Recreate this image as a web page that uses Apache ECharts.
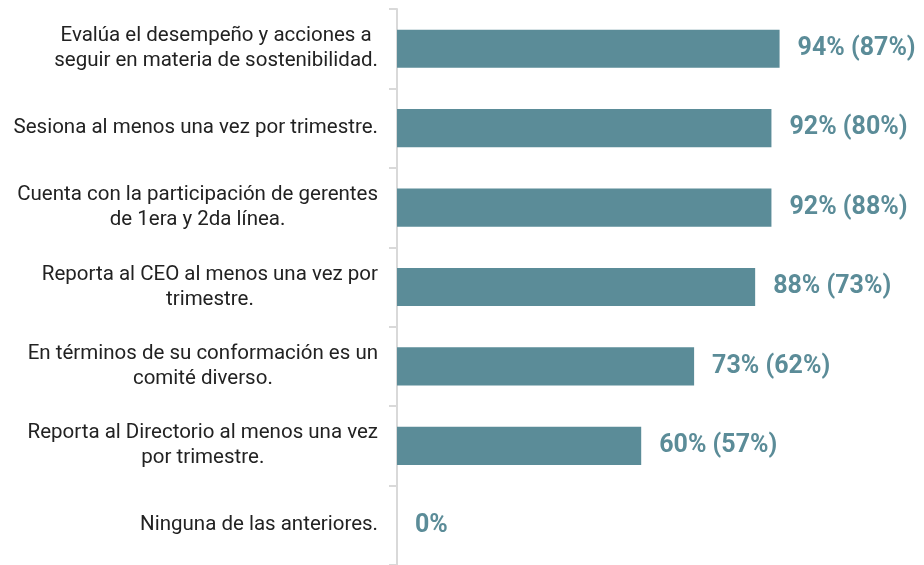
<!DOCTYPE html>
<html>
<head>
<meta charset="utf-8">
<script src="https://cdn.jsdelivr.net/npm/echarts@6/dist/echarts.min.js"></script>
<style>
  html, body { margin: 0; padding: 0; background: #fff; }
  #chart { width: 924px; height: 565px; }
</style>
</head>
<body>
<div id="chart"></div>
<script>
// categorias (de arriba hacia abajo)
const categories = [
  'Evalúa el desempeño y acciones a\nseguir en materia de sostenibilidad.',
  'Sesiona al menos una vez por trimestre.',
  'Cuenta con la participación de gerentes\nde 1era y 2da línea.',
  'Reporta al CEO al menos una vez por\ntrimestre.',
  'En términos de su conformación es un\ncomité diverso.',
  'Reporta al Directorio al menos una vez\npor trimestre.',
  'Ninguna de las anteriores.'
]
const current = [94, 92, 92, 88, 73, 60, 0]
const previous = [87, 80, 88, 73, 62, 57, null]

const teal = '#5b8c98'

const chart = echarts.init(document.getElementById('chart'))
const option = {
  animation: false,
  grid: {
    left: 397,
    top: 9,
    right: 120,
    height: 557
  },
  xAxis: {
    type: 'value',
    min: 0,
    max: 100,
    show: false
  },
  yAxis: {
    type: 'category',
    inverse: true,
    data: categories,
    axisLine: { lineStyle: { color: '#d9d9d9', width: 2 } },
    axisTick: { show: true, length: 8, lineStyle: { color: '#d9d9d9', width: 2 } },
    axisLabel: {
      margin: 19,
      align: 'right',
      formatter: function (v) {
        return v.split('\n').map(l => '{c|' + l + '}').join('\n')
      },
      rich: {
        c: {
          align: 'center',
          fontFamily: 'Roboto',
          fontSize: 20.5,
          lineHeight: 25,
          color: '#222'
        }
      }
    }
  },
  series: [
    {
      type: 'bar',
      data: current,
      barWidth: '48%',
      itemStyle: { color: teal },
      label: {
        show: true,
        position: 'right',
        distance: 18,
        fontFamily: 'Roboto',
        fontWeight: 'bold',
        fontSize: 25,
        color: teal,
        formatter: function (p) {
          const prev = previous[p.dataIndex]
          return prev == null ? p.value + '%' : p.value + '% (' + prev + '%)'
        }
      }
    }
  ]
}
chart.setOption(option)
</script>
</body>
</html>
